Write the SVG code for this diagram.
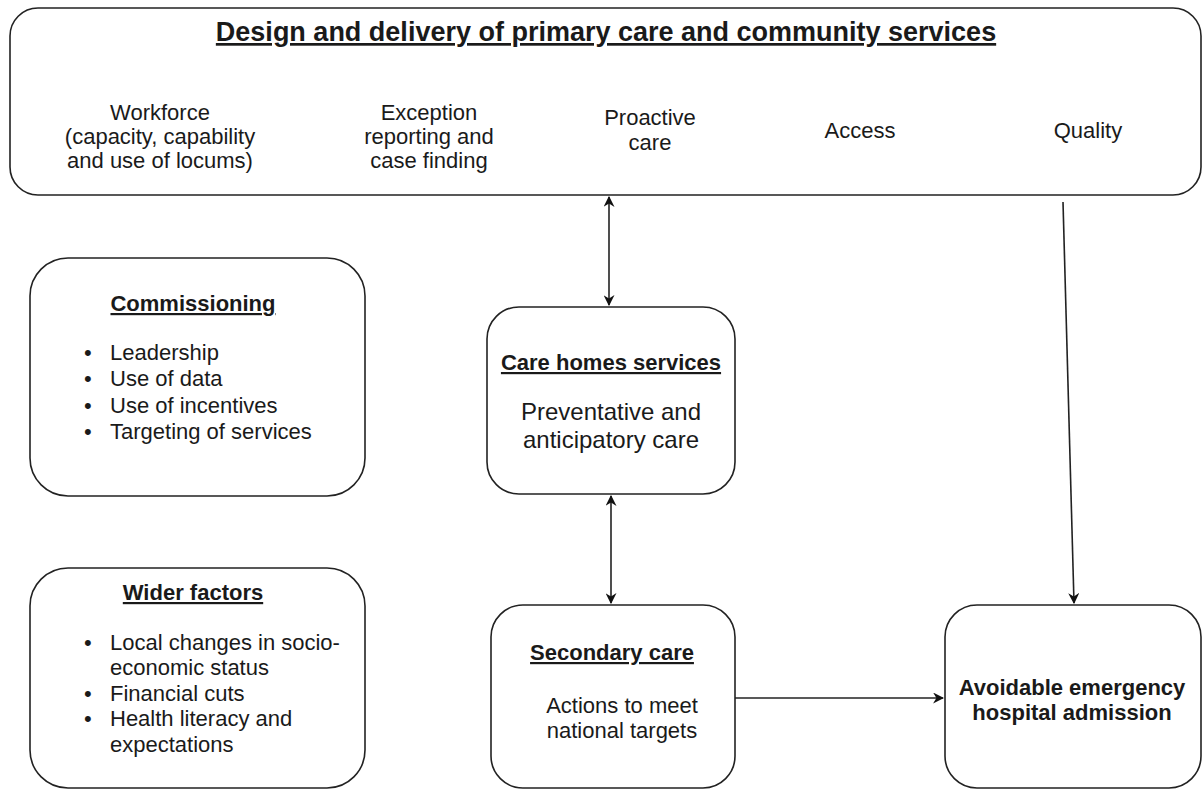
<svg xmlns="http://www.w3.org/2000/svg" width="1203" height="790" viewBox="0 0 1203 790">
<style>
text{font-family:"Liberation Sans",Arial,sans-serif;fill:#1a1a1a}
.box{fill:#fff;stroke:#222;stroke-width:1.6}
.t{font-size:22px;text-anchor:middle}
.tl{font-size:22px}
.h{font-size:22px;font-weight:bold;text-anchor:middle;text-decoration:underline}
.b{font-size:22px;font-weight:bold;text-anchor:middle}
.c{fill:none;stroke:#222;stroke-width:1.6}
</style>
<defs>
<marker id="ah" viewBox="0 0 10 10" refX="9" refY="5" markerWidth="11" markerHeight="11" markerUnits="userSpaceOnUse" orient="auto-start-reverse">
<path d="M0,0 L10,5 L0,10 L3,5 Z" fill="#111"/>
</marker>
</defs>
<rect width="1203" height="790" fill="#fff"/>
<g id="top">
<rect class="box" x="10" y="8" width="1191" height="187" rx="28"/>
<text x="606" y="41" font-size="27" font-weight="bold" text-anchor="middle" text-decoration="underline">Design and delivery of primary care and community services</text>
<text class="t" x="160" y="120">Workforce</text>
<text class="t" x="160" y="144">(capacity, capability</text>
<text class="t" x="160" y="168">and use of locums)</text>
<text class="t" x="429" y="120">Exception</text>
<text class="t" x="429" y="144">reporting and</text>
<text class="t" x="429" y="168">case finding</text>
<text class="t" x="650" y="125">Proactive</text>
<text class="t" x="650" y="150">care</text>
<text class="t" x="860" y="138">Access</text>
<text class="t" x="1088" y="138">Quality</text>
</g>
<g id="commissioning">
<rect class="box" x="30" y="258" width="335" height="238" rx="38"/>
<text class="h" x="193" y="311">Commissioning</text>
<g class="tl">
<text x="84" y="360">•</text><text x="110" y="360">Leadership</text>
<text x="84" y="386">•</text><text x="110" y="386">Use of data</text>
<text x="84" y="413">•</text><text x="110" y="413">Use of incentives</text>
<text x="84" y="439">•</text><text x="110" y="439">Targeting of services</text>
</g>
</g>
<g id="wider">
<rect class="box" x="30" y="568" width="335" height="220" rx="38"/>
<text class="h" x="193" y="600">Wider factors</text>
<g class="tl">
<text x="84" y="650">•</text><text x="110" y="650">Local changes in socio-</text>
<text x="110" y="675">economic status</text>
<text x="84" y="701">•</text><text x="110" y="701">Financial cuts</text>
<text x="84" y="726">•</text><text x="110" y="726">Health literacy and</text>
<text x="110" y="752">expectations</text>
</g>
</g>
<g id="carehomes">
<rect class="box" x="487" y="307" width="248" height="187" rx="32"/>
<text class="h" x="611" y="370">Care homes services</text>
<text x="611" y="420" font-size="24" text-anchor="middle">Preventative and</text>
<text x="611" y="448" font-size="24" text-anchor="middle">anticipatory care</text>
</g>
<g id="secondary">
<rect class="box" x="491" y="605" width="244" height="183" rx="32"/>
<text class="h" x="612" y="660">Secondary care</text>
<text class="t" x="622" y="713">Actions to meet</text>
<text class="t" x="622" y="738">national targets</text>
</g>
<g id="avoidable">
<rect class="box" x="945" y="605" width="256" height="183" rx="32"/>
<text class="b" x="1072" y="695">Avoidable emergency</text>
<text class="b" x="1072" y="720">hospital admission</text>
</g>
<g id="connectors">
<line class="c" x1="609" y1="197" x2="609" y2="305" marker-start="url(#ah)" marker-end="url(#ah)"/>
<line class="c" x1="611" y1="496" x2="611" y2="603" marker-start="url(#ah)" marker-end="url(#ah)"/>
<line class="c" x1="1063" y1="202" x2="1074" y2="603" marker-end="url(#ah)"/>
<line class="c" x1="735" y1="698" x2="943" y2="698" marker-end="url(#ah)"/>
</g>
</svg>
